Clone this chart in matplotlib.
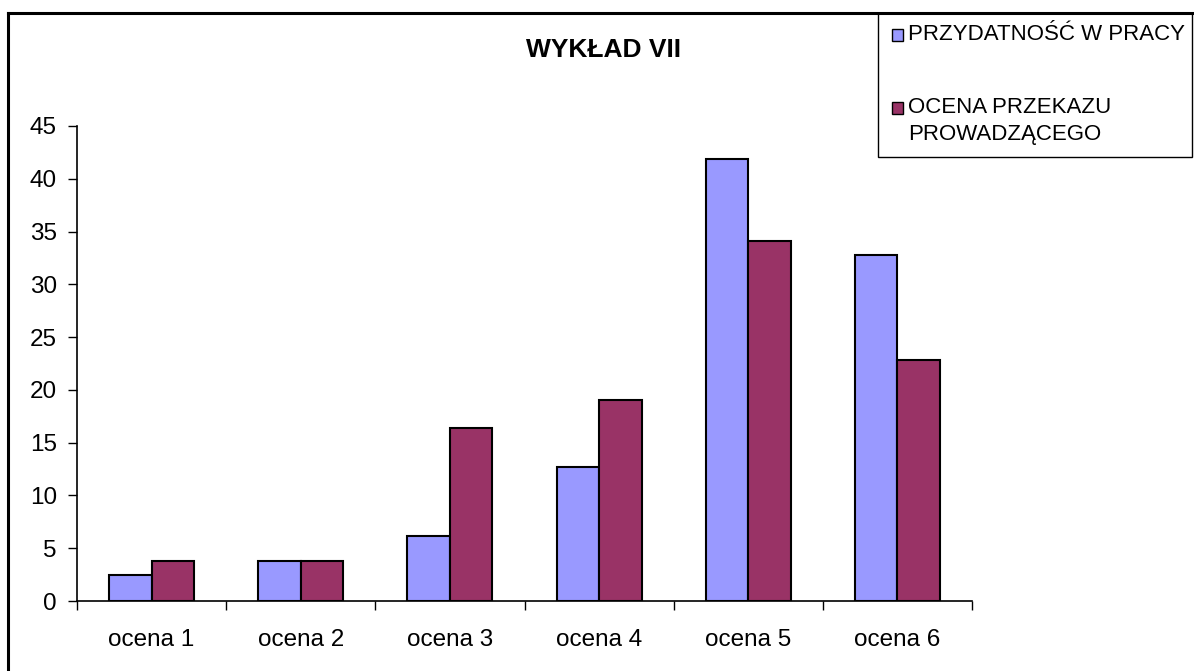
import matplotlib.pyplot as plt
from matplotlib.patches import Rectangle
from matplotlib.lines import Line2D
import numpy as np

plt.rcParams['font.family'] = ['Liberation Sans', 'DejaVu Sans']

# data
categories = ['ocena 1', 'ocena 2', 'ocena 3', 'ocena 4', 'ocena 5', 'ocena 6']
przydatnosc = [2.5, 3.8, 6.2, 12.7, 41.9, 32.8]
ocena_przekazu = [3.8, 3.8, 16.4, 19.0, 34.1, 22.8]
series_names = ['PRZYDATNOŚĆ W PRACY', 'OCENA PRZEKAZU\nPROWADZĄCEGO']
colors = ['#9999FF', '#993366']
yticks = list(range(0, 50, 5))

W, H = 1194, 671
fig = plt.figure(figsize=(W / 100, H / 100), dpi=100)
ax = fig.add_axes([77 / W, 1 - 601 / H, 895 / W, 475 / H])

x = np.arange(len(categories))
bw = 0.285
ax.bar(x - bw / 2, przydatnosc, bw, color=colors[0], edgecolor='black', linewidth=1.5)
ax.bar(x + bw / 2, ocena_przekazu, bw, color=colors[1], edgecolor='black', linewidth=1.5)

ax.set_xlim(-0.5, len(categories) - 0.5)
ax.set_ylim(0, 45)
ax.set_yticks(yticks)
ax.tick_params(axis='y', labelsize=17.5, length=6.5, width=1, pad=8, direction='out')

# ticks at category boundaries, labels at centres
ax.set_xticks(np.arange(len(categories) + 1) - 0.5)
ax.set_xticklabels([])
ax.tick_params(axis='x', which='major', length=6.5, width=1, direction='out')
ax.set_xticks(x, minor=True)
ax.set_xticklabels(categories, minor=True)
ax.tick_params(axis='x', which='minor', length=0, labelsize=17.5, pad=20)

for s in ['top', 'right']:
    ax.spines[s].set_visible(False)
for s in ['left', 'bottom']:
    ax.spines[s].set_linewidth(1.2)

fig.text(604 / W, 1 - 50 / H, 'WYKŁAD VII', fontsize=19, fontweight='bold',
         ha='center', va='center')

# outer frame (left and top edge)
fig.add_artist(Line2D([8 / W, 8 / W], [0, 1 - 13 / H], color='black', linewidth=2.2,
                      transform=fig.transFigure))
fig.add_artist(Line2D([8 / W, 1192 / W], [1 - 13 / H, 1 - 13 / H], color='black',
                      linewidth=2.2, transform=fig.transFigure))

# legend box
fig.add_artist(Rectangle((878 / W, 1 - 157 / H), (1192 - 878) / W, 144 / H,
                         transform=fig.transFigure, facecolor='white',
                         edgecolor='black', linewidth=1))
sq = 11
for name, col, yc, yt in [(series_names[0], colors[0], 35, 35),
                          (series_names[1], colors[1], 108, 121)]:
    fig.add_artist(Rectangle(((897 - sq / 2) / W, 1 - (yc + sq / 2) / H), sq / W, sq / H,
                             transform=fig.transFigure, facecolor=col,
                             edgecolor='black', linewidth=1))
    fig.text(908 / W, 1 - yt / H, name, fontsize=16, ha='left', va='center',
             linespacing=1.4)

fig.savefig('out.png', dpi=100)
